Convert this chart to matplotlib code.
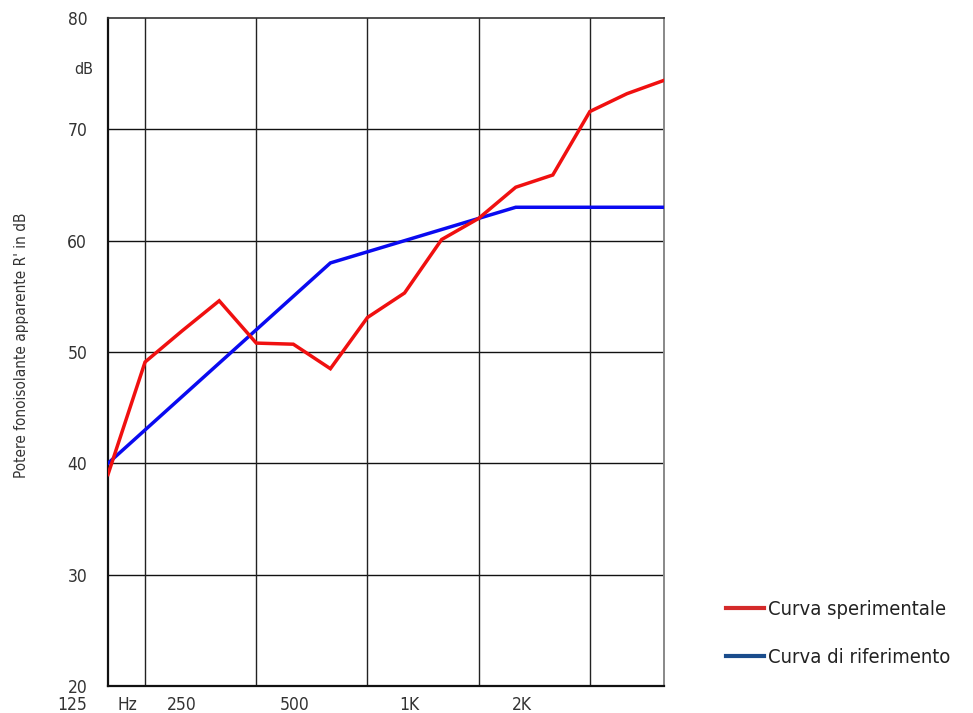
import matplotlib
matplotlib.use("Agg")
import matplotlib.pyplot as plt
from matplotlib.lines import Line2D
import matplotlib.transforms as mtransforms
from matplotlib import font_manager

# pick a narrow/condensed face if one exists
narrow = None
for f in font_manager.fontManager.ttflist:
    n = (f.name + ' ' + f.fname).lower()
    if ('narrow' in n or 'condensed' in n) and 'bold' not in n and 'oblique' not in n and 'italic' not in n and 'mono' not in n:
        narrow = f
        break
if narrow is not None:
    plt.rcParams['font.family'] = [narrow.name, 'DejaVu Sans']
    plt.rcParams['font.stretch'] = narrow.stretch
    FS = 1.0
else:
    plt.rcParams['font.family'] = ['Roboto', 'DejaVu Sans']
    FS = 0.9

# Data: one-third octave bands 100 Hz .. 3150 Hz
bands = ['100', '125', '160', '200', '250', '315', '400', '500', '630', '800',
         '1000', '1250', '1600', '2000', '2500', '3150']
measured = [39.0, 49.1, 51.9, 54.6, 50.8, 50.7, 48.5, 53.1, 55.3, 60.1,
            62.0, 64.8, 65.9, 71.6, 73.2, 74.4]
reference = [40, 43, 46, 49, 52, 55, 58, 59, 60, 61, 62, 63, 63, 63, 63, 63]

y_ticks = [20, 30, 40, 50, 60, 70, 80]
x_grid = [1, 4, 7, 10, 13]
x_labels = ['125', 'Hz', '250', '500', '1K', '2K']
x_label_pos = [-0.97, 0.53, 2.0, 5.03, 8.12, 11.17]

legend_labels = ['Curva sperimentale', 'Curva di riferimento']

fig = plt.figure(figsize=(9.73, 7.13), dpi=100)
ax = fig.add_axes([108/973, 1-686/713, (664-108)/973, (686-18)/713])

x = list(range(len(bands)))
ax.set_xlim(0, len(bands)-1)
ax.set_ylim(20, 80)

for yv in y_ticks[1:-1]:
    ax.axhline(yv, color='#111111', lw=1.0, zorder=1)
for xv in x_grid:
    ax.axvline(xv, color='#222222', lw=1.0, zorder=1)

ax.plot(x, reference, color='#0a0af0', lw=2.5, zorder=3, solid_joinstyle='miter')
ax.plot(x, measured, color='#f01010', lw=2.5, zorder=4, solid_joinstyle='miter')

ax.set_xticks([])
ax.set_yticks(y_ticks)
ax.set_yticklabels([str(v) for v in y_ticks])
ax.tick_params(axis='y', length=0, pad=15, labelsize=12.5*FS, labelcolor='#333333')

for s in ['left', 'bottom']:
    ax.spines[s].set_color('#111111')
    ax.spines[s].set_linewidth(1.6)
ax.spines['top'].set_color('#333333')
ax.spines['top'].set_linewidth(1.2)
ax.spines['right'].set_color('#888888')
ax.spines['right'].set_linewidth(1.4)

trans = mtransforms.blended_transform_factory(ax.transData, ax.transAxes)
for lab, pos in zip(x_labels, x_label_pos):
    ax.text(pos, -0.029, lab, transform=trans, ha='center', va='center',
            fontsize=12.5*FS, color='#333333', clip_on=False)

ax.text(-0.027, 75.4, 'dB', transform=mtransforms.blended_transform_factory(ax.transAxes, ax.transData),
        ha='right', va='center', fontsize=11.5*FS, color='#333333')

fig.text(22/973, 1-345/713, "Potere fonoisolante apparente R' in dB", rotation=90,
         ha='center', va='center', fontsize=11*FS, color='#333333')

handles = [Line2D([], [], color='#d42a2a', lw=3),
           Line2D([], [], color='#1a4c8c', lw=3)]
fig.legend(handles, legend_labels, loc='upper left', bbox_to_anchor=(726/973, 1-600/713),
           frameon=False, fontsize=14.5*FS, handlelength=1.9, handletextpad=0.2,
           labelspacing=1.45, borderaxespad=0, borderpad=0, labelcolor='#222222')

fig.savefig('out.png', dpi=100)
